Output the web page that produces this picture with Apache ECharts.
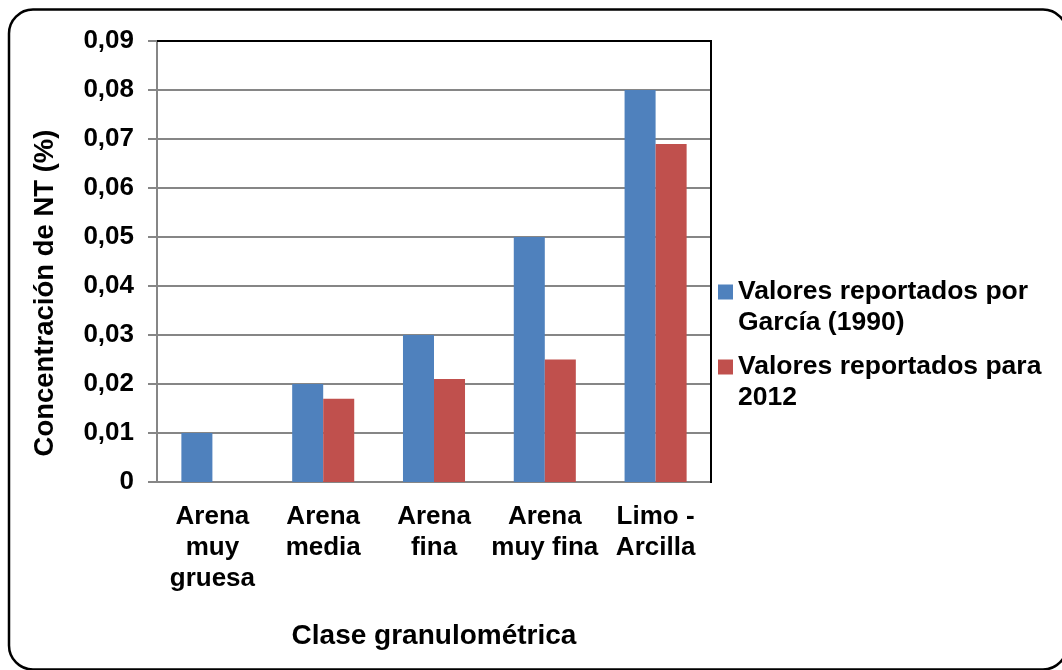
<!DOCTYPE html>
<html>
<head>
<meta charset="utf-8">
<script src="https://cdn.jsdelivr.net/npm/echarts@6/dist/echarts.min.js"></script>
<style>
html,body{margin:0;padding:0;background:#fff;}
#chart{width:1062px;height:670px;}
</style>
</head>
<body>
<div id="chart"></div>
<script>
var categories = ['Arena\nmuy\ngruesa', 'Arena\nmedia', 'Arena\nfina', 'Arena\nmuy fina', 'Limo -\nArcilla'];
var garcia1990 = [0.01, 0.02, 0.03, 0.05, 0.08];
var valores2012 = [null, 0.017, 0.021, 0.025, 0.069];
var seriesNames = ['Valores reportados por García (1990)', 'Valores reportados para 2012'];
var legendLabels = ['Valores reportados por\nGarcía (1990)', 'Valores reportados para\n2012'];
var yTickLabels = ['0', '0,01', '0,02', '0,03', '0,04', '0,05', '0,06', '0,07', '0,08', '0,09'];
var xTitle = 'Clase granulométrica';
var yTitle = 'Concentración de NT (%)';

var FONT = '"Liberation Sans", Arial, sans-serif';
var chart = echarts.init(document.getElementById('chart'), null, {renderer: 'canvas'});

function legendCfg(i, top) {
  return {
    data: [seriesNames[i]],
    left: 718,
    top: top,
    padding: 0,
    orient: 'vertical',
    itemWidth: 15,
    itemHeight: 15,
    itemGap: 0,
    icon: 'rect',
    formatter: function () { return '\n' + legendLabels[i]; },
    textStyle: {
      fontFamily: FONT, fontWeight: 'bold', fontSize: 26.5, color: '#000',
      lineHeight: 31
    }
  };
}

chart.setOption({
  animation: false,
  backgroundColor: '#fff',
  textStyle: {fontFamily: FONT},
  grid: {
    left: 157, right: 351, top: 41, bottom: 188,
    show: false
  },
  legend: [legendCfg(0, 245.5), legendCfg(1, 320.5)],
  xAxis: {
    type: 'category',
    data: categories,
    axisLine: {show: true, lineStyle: {color: '#868686', width: 2}},
    axisTick: {show: false},
    axisLabel: {
      interval: 0, margin: 19, color: '#000',
      fontFamily: FONT, fontWeight: 'bold', fontSize: 26, lineHeight: 31
    },
    name: xTitle,
    nameLocation: 'middle',
    nameGap: 138,
    nameTextStyle: {
      color: '#000', fontFamily: FONT, fontWeight: 'bold', fontSize: 28, lineHeight: 32
    }
  },
  yAxis: {
    type: 'value',
    min: 0, max: 0.09, interval: 0.01,
    axisLine: {show: true, lineStyle: {color: '#868686', width: 2}},
    axisTick: {show: true, inside: false, length: 9, lineStyle: {color: '#868686', width: 2}},
    axisLabel: {
      margin: 23, color: '#000', padding: [5, 0, 0, 0],
      fontFamily: FONT, fontWeight: 'bold', fontSize: 26,
      formatter: function (v) { return yTickLabels[Math.round(v * 100)]; }
    },
    splitLine: {show: true, showMaxLine: false, lineStyle: {color: '#868686', width: 2}}
  },
  series: [
    {
      name: seriesNames[0], type: 'bar', data: garcia1990,
      itemStyle: {color: '#4F81BD'},
      barGap: '0%', barCategoryGap: '44%'
    },
    {
      name: seriesNames[1], type: 'bar', data: valores2012,
      itemStyle: {color: '#C0504D'},
      barGap: '0%', barCategoryGap: '44%'
    }
  ],
  graphic: [
    {
      type: 'rect', silent: true, z: 100,
      shape: {x: 9, y: 9.5, width: 1058, height: 660, r: 24},
      style: {fill: null, stroke: '#000', lineWidth: 2.5}
    },
    {
      type: 'line', silent: true, z: 50,
      shape: {x1: 157, y1: 41, x2: 712, y2: 41},
      style: {stroke: '#000', lineWidth: 2}
    },
    {
      type: 'line', silent: true, z: 50,
      shape: {x1: 711, y1: 41, x2: 711, y2: 483},
      style: {stroke: '#000', lineWidth: 2}
    },
    {
      type: 'text', silent: true,
      x: 45, y: 293, rotation: Math.PI / 2,
      style: {
        text: yTitle, fill: '#000', font: 'bold 27.5px ' + FONT,
        align: 'center', verticalAlign: 'middle'
      }
    }
  ]
});
</script>
</body>
</html>
